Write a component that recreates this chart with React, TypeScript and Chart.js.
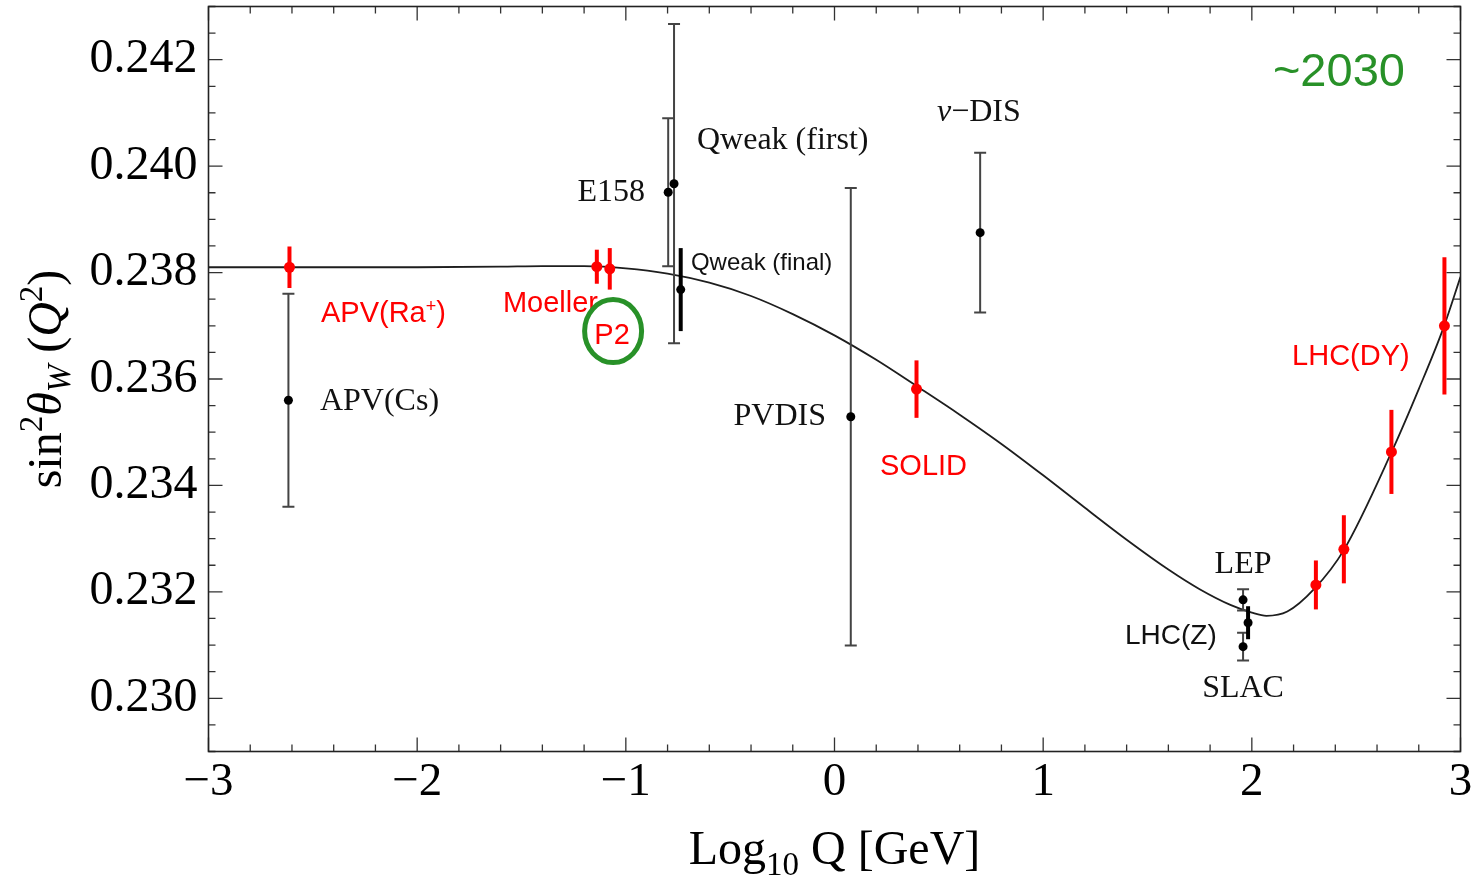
import React, { useEffect, useRef } from "react";
import { Chart, registerables } from "chart.js";

Chart.register(...registerables);

const SERIF = '"Liberation Serif", "Times New Roman", serif';
const SANS = '"Liberation Sans", Arial, sans-serif';

// Axis ranges and labelled ticks
const xRange = [-3, 3];
const yRange = [0.229, 0.243];
const xTicks = [-3, -2, -1, 0, 1, 2, 3];
const yTicks = [0.23, 0.232, 0.234, 0.236, 0.238, 0.24, 0.242];

// Standard Model running of sin^2(theta_W) in the MS-bar scheme
const curveLogQ = [
  -3.0, -2.5, -2.0, -1.6, -1.4, -1.2, -1.0, -0.8, -0.6, -0.4, -0.2, 0.0, 0.2,
  0.4, 0.6, 0.8, 1.0, 1.2, 1.4, 1.6, 1.75, 1.9, 2.0, 2.07, 2.17, 2.3, 2.44,
  2.67, 2.8, 2.92, 3.0,
];
const curveSin2 = [
  0.2381, 0.2381, 0.2381, 0.23811, 0.23812, 0.23812, 0.23808, 0.23798, 0.23781,
  0.23756, 0.23722, 0.23682, 0.23636, 0.23585, 0.23533, 0.23478, 0.23419,
  0.23358, 0.23298, 0.23242, 0.23205, 0.23175, 0.23161, 0.23155, 0.23163,
  0.23206, 0.23278, 0.23463, 0.23581, 0.23698, 0.23792,
];

// Existing measurements
const pastNames = ["APV(Cs)", "E158", "Qweak (first)", "Qweak (final)", "PVDIS", "ν-DIS", "LEP", "SLAC", "LHC(Z)"];
const pastLogQ = [-2.617, -0.797, -0.769, -0.737, 0.078, 0.698, 1.958, 1.958, 1.982];
const pastSin2 = [0.2356, 0.23951, 0.23967, 0.23768, 0.23529, 0.23875, 0.23185, 0.23097, 0.23142];
const pastErr = [0.002, 0.00139, 0.003, 0.00078, 0.0043, 0.0015, 0.0002, 0.00026, 0.00031];
const pastBold = [false, false, false, true, false, false, false, false, true];

// Projected measurements
const futureNames = ["APV(Ra+)", "Moeller", "P2", "SOLID", "LHC(DY) a", "LHC(DY) b", "LHC(DY) c", "LHC(DY) d"];
const futureLogQ = [-2.612, -1.139, -1.077, 0.393, 2.307, 2.441, 2.669, 2.923];
const futureSin2 = [0.2381, 0.23811, 0.23807, 0.23581, 0.23213, 0.2328, 0.23463, 0.237];
const futureErr = [0.00039, 0.00032, 0.00039, 0.00054, 0.00046, 0.00064, 0.00079, 0.00129];

type Run = { t: string; size: number; family?: string; style?: string; dy?: number };
type Note = { runs: Run[]; x: number; y: number; align: "left" | "center" | "right"; color: string };

const BLACK = "#111111";
const RED = "#ff0000";
const GREEN = "#289128";

// Text annotations, anchored in data coordinates (y = text baseline)
const notes: Note[] = [
  { runs: [{ t: "APV(Cs)", size: 32 }], x: -2.466, y: 0.23542, align: "left", color: BLACK },
  { runs: [{ t: "E158", size: 32 }], x: -0.908, y: 0.23934, align: "right", color: BLACK },
  { runs: [{ t: "Qweak (first)", size: 32 }], x: -0.659, y: 0.24033, align: "left", color: BLACK },
  { runs: [{ t: "Qweak (final)", size: 24, family: SANS }], x: -0.688, y: 0.23804, align: "left", color: BLACK },
  { runs: [{ t: "PVDIS", size: 32 }], x: -0.041, y: 0.23513, align: "right", color: BLACK },
  { runs: [{ t: "ν", size: 32, style: "italic" }, { t: "−DIS", size: 32 }], x: 0.491, y: 0.24084, align: "left", color: BLACK },
  { runs: [{ t: "LEP", size: 32 }], x: 1.958, y: 0.23235, align: "center", color: BLACK },
  { runs: [{ t: "LHC(Z)", size: 28, family: SANS }], x: 1.392, y: 0.23102, align: "left", color: BLACK },
  { runs: [{ t: "SLAC", size: 32 }], x: 1.958, y: 0.23003, align: "center", color: BLACK },
  {
    runs: [
      { t: "APV(Ra", size: 29, family: SANS },
      { t: "+", size: 18, family: SANS, dy: -10 },
      { t: ")", size: 29, family: SANS },
    ],
    x: -2.461, y: 0.23708, align: "left", color: RED,
  },
  { runs: [{ t: "Moeller", size: 29, family: SANS }], x: -1.589, y: 0.23725, align: "left", color: RED },
  { runs: [{ t: "P2", size: 29, family: SANS }], x: -1.066, y: 0.23665, align: "center", color: RED },
  { runs: [{ t: "SOLID", size: 29, family: SANS }], x: 0.218, y: 0.23419, align: "left", color: RED },
  { runs: [{ t: "LHC(DY)", size: 29, family: SANS }], x: 2.193, y: 0.23627, align: "left", color: RED },
  { runs: [{ t: "~2030", size: 47, family: SANS }], x: 2.101, y: 0.24151, align: "left", color: GREEN },
];

// Highlight ring around P2
const ringCenter = { x: -1.061, y: 0.2369 };

function fontOf(r: Run) {
  return `${r.style || "normal"} ${r.size}px ${r.family || SERIF}`;
}

function drawRuns(ctx: CanvasRenderingContext2D, runs: Run[], x: number, y: number, align: string, color: string) {
  const widths = runs.map((r) => {
    ctx.font = fontOf(r);
    return ctx.measureText(r.t).width;
  });
  const total = widths.reduce((a, b) => a + b, 0);
  let cx = align === "left" ? x : align === "right" ? x - total : x - total / 2;
  ctx.fillStyle = color;
  ctx.textAlign = "left";
  ctx.textBaseline = "alphabetic";
  runs.forEach((r, i) => {
    ctx.font = fontOf(r);
    ctx.fillText(r.t, cx, y + (r.dy || 0));
    cx += widths[i];
  });
}

const framePlugin = {
  id: "frameTicks",
  afterDraw(chart: any) {
    const { ctx, chartArea: a, scales } = chart;
    const xs = scales.x;
    const ys = scales.y;
    ctx.save();
    ctx.strokeStyle = "#333";
    ctx.lineWidth = 1.3;
    // x ticks every 0.2, long ones on integers, on bottom and top edges
    for (let i = 0; i <= 30; i++) {
      const v = xRange[0] + i * 0.2;
      const px = xs.getPixelForValue(v);
      const len = i % 5 === 0 ? 14 : 7;
      ctx.beginPath();
      ctx.moveTo(px, a.bottom);
      ctx.lineTo(px, a.bottom - len);
      ctx.moveTo(px, a.top);
      ctx.lineTo(px, a.top + len);
      ctx.stroke();
    }
    // y ticks every 0.0005, long ones on labelled values, on left and right edges
    for (let i = 0; i <= 28; i++) {
      const v = yRange[0] + i * 0.0005;
      const py = ys.getPixelForValue(v);
      const len = (i - 2) % 4 === 0 ? 14 : 7;
      ctx.beginPath();
      ctx.moveTo(a.left, py);
      ctx.lineTo(a.left + len, py);
      ctx.moveTo(a.right, py);
      ctx.lineTo(a.right - len, py);
      ctx.stroke();
    }
    ctx.lineWidth = 1.6;
    ctx.strokeStyle = "#222";
    ctx.strokeRect(a.left, a.top, a.right - a.left, a.bottom - a.top);

    // axis titles
    ctx.save();
    ctx.translate(61, 379);
    ctx.rotate(-Math.PI / 2);
    const yTitle: Run[] = [
      { t: "sin", size: 48 },
      { t: "2", size: 33, dy: -19 },
      { t: "θ", size: 48, style: "italic" },
      { t: "W", size: 33, style: "italic", dy: 9 },
      { t: " (", size: 48 },
      { t: "Q", size: 48, style: "italic" },
      { t: "2", size: 33, dy: -19 },
      { t: ")", size: 48 },
    ];
    drawRuns(ctx, yTitle, 0, 0, "center", "#000");
    ctx.restore();

    const xTitle: Run[] = [
      { t: "Log", size: 48 },
      { t: "10", size: 33, dy: 11 },
      { t: " Q [GeV]", size: 48 },
    ];
    drawRuns(ctx, xTitle, (a.left + a.right) / 2, 864, "center", "#000");
    ctx.restore();
  },
};

function drawBars(chart: any, xsArr: number[], ysArr: number[], errs: number[], style: (i: number) => { color: string; width: number; cap: number }) {
  const { ctx, scales } = chart;
  xsArr.forEach((xv, i) => {
    const s = style(i);
    const px = scales.x.getPixelForValue(xv);
    const p1 = scales.y.getPixelForValue(ysArr[i] + errs[i]);
    const p2 = scales.y.getPixelForValue(ysArr[i] - errs[i]);
    ctx.strokeStyle = s.color;
    ctx.lineWidth = s.width;
    ctx.beginPath();
    ctx.moveTo(px, p1);
    ctx.lineTo(px, p2);
    if (s.cap > 0) {
      ctx.moveTo(px - s.cap, p1);
      ctx.lineTo(px + s.cap, p1);
      ctx.moveTo(px - s.cap, p2);
      ctx.lineTo(px + s.cap, p2);
    }
    ctx.stroke();
  });
}

const errorBarPlugin = {
  id: "errorBars",
  afterDatasetDraw(chart: any, args: any) {
    if (args.index !== 0) return;
    const { ctx } = chart;
    ctx.save();
    ctx.lineCap = "butt";
    drawBars(chart, pastLogQ, pastSin2, pastErr, (i) =>
      pastBold[i] ? { color: "#000", width: 4, cap: 0 } : { color: "#444", width: 2, cap: 6 }
    );
    drawBars(chart, futureLogQ, futureSin2, futureErr, () => ({ color: RED, width: 4, cap: 0 }));
    ctx.restore();
  },
};

const notesPlugin = {
  id: "notes",
  afterDraw(chart: any) {
    const { ctx, scales } = chart;
    ctx.save();
    notes.forEach((n) => {
      drawRuns(ctx, n.runs, scales.x.getPixelForValue(n.x), scales.y.getPixelForValue(n.y), n.align, n.color);
    });
    ctx.strokeStyle = GREEN;
    ctx.lineWidth = 5;
    ctx.beginPath();
    ctx.ellipse(scales.x.getPixelForValue(ringCenter.x), scales.y.getPixelForValue(ringCenter.y), 28.5, 31.5, 0, 0, Math.PI * 2);
    ctx.stroke();
    ctx.restore();
  },
};

export default function App() {
  const canvasRef = useRef<HTMLCanvasElement | null>(null);

  useEffect(() => {
    const canvas = canvasRef.current;
    if (!canvas) return;
    const chart = new Chart(canvas, {
      type: "scatter",
      data: {
        datasets: [
          {
            label: "SM running",
            data: curveLogQ.map((x, i) => ({ x, y: curveSin2[i] })),
            showLine: true,
            borderColor: "#1e1e1e",
            borderWidth: 1.8,
            pointRadius: 0,
            cubicInterpolationMode: "monotone",
            fill: false,
            order: 3,
          } as any,
          {
            label: "measurements",
            data: pastLogQ.map((x, i) => ({ x, y: pastSin2[i], name: pastNames[i] })),
            backgroundColor: "#000",
            borderWidth: 0,
            pointRadius: 4.5,
            order: 2,
          },
          {
            label: "projections",
            data: futureLogQ.map((x, i) => ({ x, y: futureSin2[i], name: futureNames[i] })),
            backgroundColor: RED,
            borderWidth: 0,
            pointRadius: 5.5,
            order: 1,
          },
        ],
      },
      options: {
        responsive: false,
        animation: false,
        devicePixelRatio: 1,
        layout: { padding: { left: 0, right: 12.5, top: 6.5, bottom: 0 } },
        plugins: { legend: { display: false }, tooltip: { enabled: false } },
        scales: {
          x: {
            type: "linear",
            min: xRange[0],
            max: xRange[1],
            grid: { display: false, drawTicks: false },
            border: { display: false },
            afterBuildTicks: (s: any) => {
              s.ticks = xTicks.map((v) => ({ value: v }));
            },
            afterFit: (s: any) => {
              s.height = 124.5;
              s.paddingLeft = 0;
              s.paddingRight = 0;
            },
            ticks: {
              autoSkip: false,
              maxRotation: 0,
              padding: 3,
              color: "#000",
              font: { family: SERIF, size: 47 },
              callback: (v: any) => (v < 0 ? "\u2212" + Math.abs(v) : String(v)),
            },
          },
          y: {
            type: "linear",
            min: yRange[0],
            max: yRange[1],
            grid: { display: false, drawTicks: false },
            border: { display: false },
            afterBuildTicks: (s: any) => {
              s.ticks = yTicks.map((v) => ({ value: v }));
            },
            afterFit: (s: any) => {
              s.width = 208.5;
              s.paddingTop = 0;
              s.paddingBottom = 0;
            },
            ticks: {
              autoSkip: false,
              padding: 11,
              color: "#000",
              font: { family: SERIF, size: 48 },
              callback: (v: any) => Number(v).toFixed(3),
            },
          },
        },
      } as any,
      plugins: [errorBarPlugin, framePlugin, notesPlugin],
    });
    return () => chart.destroy();
  }, []);

  return (
    <div style={{ position: "absolute", left: 0, top: 0, width: 1473, height: 876, background: "#fff" }}>
      <canvas ref={canvasRef} width={1473} height={876} style={{ display: "block" }} />
    </div>
  );
}
